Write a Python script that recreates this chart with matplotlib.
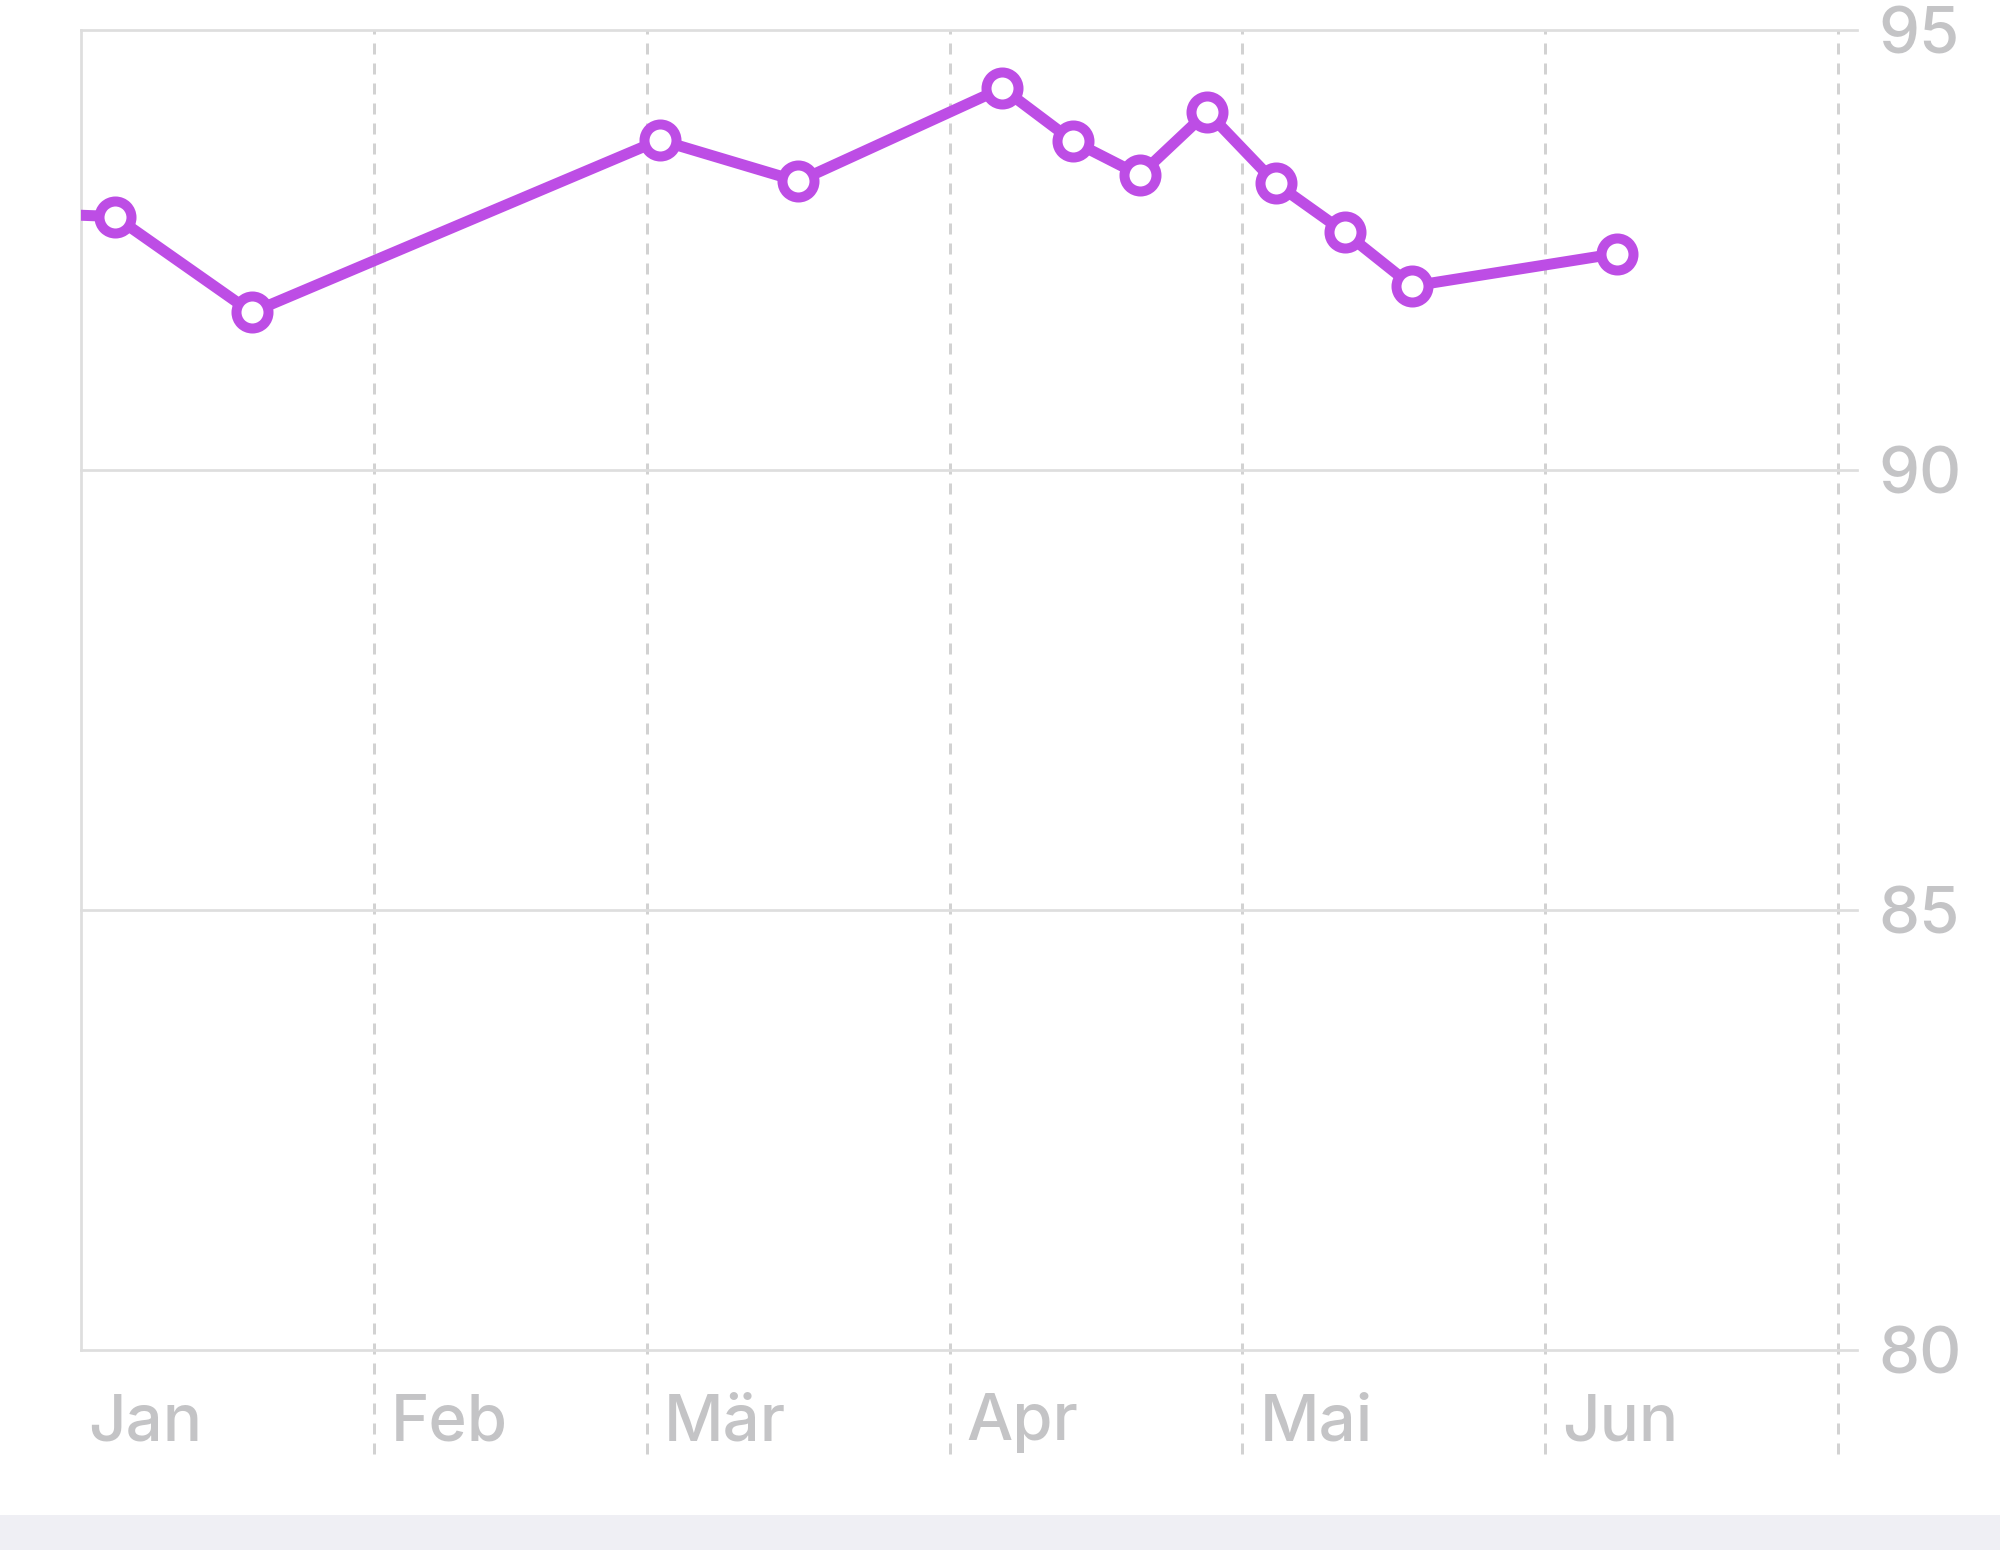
import matplotlib
matplotlib.use("Agg")
import matplotlib.pyplot as plt
from matplotlib.patches import Rectangle
from matplotlib.transforms import blended_transform_factory, offset_copy

# ---- data (day of year, non-leap year) ----
days = [-1.5, 5.5, 19.5, 61.3, 75.5, 96.4, 103.6, 110.5, 117.4, 124.4, 131.5, 138.4, 159.4]
values = [92.91, 92.88, 91.79, 93.75, 93.28, 94.34, 93.74, 93.35, 94.07, 93.26, 92.70, 92.09, 92.46]

month_starts = [1, 32, 60, 91, 121, 152]
month_labels = ["Jan", "Feb", "Mär", "Apr", "Mai", "Jun"]
grid_month_lines = [32, 60, 91, 121, 152, 182]

y_ticks = [80, 85, 90, 95]
y_tick_labels = ["80", "85", "90", "95"]

# ---- style ----
plt.rcParams['font.family'] = ['Inter', 'DejaVu Sans']
PURPLE = '#BD4DE5'
GRID = '#dedede'
VGRID = '#d2d2d2'
TEXT = '#c4c4c6'

DPI = 100
fig = plt.figure(figsize=(20, 15.5), dpi=DPI)
fig.patch.set_facecolor('white')

# bottom band
fig.patches.append(Rectangle((0, 0), 1, 35 / 1550, transform=fig.transFigure,
                             facecolor='#EFEFF4', edgecolor='none', zorder=0))

ax = fig.add_axes([81 / 2000, 200 / 1550, (1857 - 81) / 2000, 1320 / 1550])
ax.set_xlim(2.01, 183.98)
ax.set_ylim(80, 95)

px = 72 / DPI  # points per pixel
FS = 47

# horizontal grid + y labels on right
ax.yaxis.tick_right()
ax.set_yticks(y_ticks)
ax.set_yticklabels(y_tick_labels, fontweight='medium')
ax.tick_params(axis='y', length=0, pad=21 * px, labelsize=FS, labelcolor=TEXT)
ax.set_xticks([])
ax.yaxis.grid(True, color=GRID, linewidth=2.7 * px, zorder=0)
ax.set_axisbelow(True)
for gl in ax.get_ygridlines():
    gl.set_clip_on(False)

for s in ['top', 'right', 'bottom']:
    ax.spines[s].set_visible(False)
ax.spines['left'].set_color(GRID)
ax.spines['left'].set_linewidth(2.7 * px)

# vertical dashed month lines
for d in grid_month_lines:
    ax.axvline(d, ymin=-0.079, ymax=1.0, color=VGRID, linewidth=3 * px,
               dashes=(11 / 3, 9 / 3), clip_on=False, zorder=0.5)

# month labels
trans = blended_transform_factory(ax.transData, ax.transAxes)
trans = offset_copy(trans, fig=fig, x=17 * px, y=0, units='points')
for d, lab in zip(month_starts, month_labels):
    ax.text(d, -0.0682, lab, transform=trans, ha='left', va='baseline',
            fontsize=FS, color=TEXT, clip_on=False, fontweight='medium')

# series
ax.plot(days, values, color=PURPLE, linewidth=11 * px, marker='o',
        markersize=32 * px, markeredgewidth=10 * px, markerfacecolor='white',
        markeredgecolor=PURPLE, zorder=3, solid_joinstyle='round')

fig.savefig('out.png', dpi=DPI, facecolor='white')
